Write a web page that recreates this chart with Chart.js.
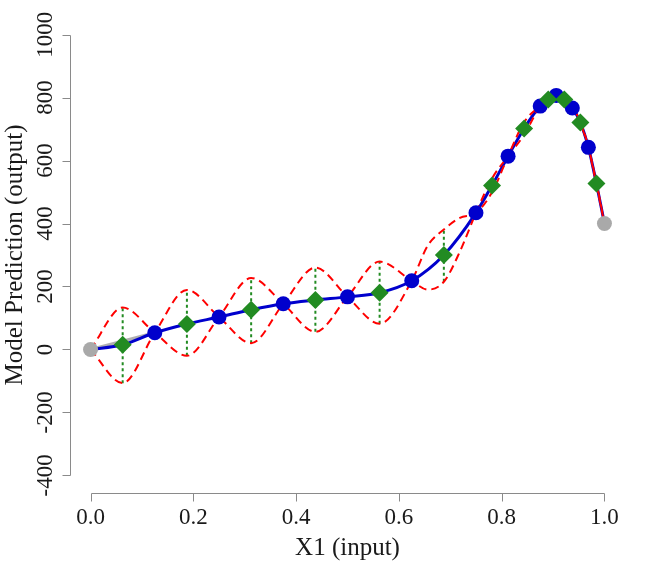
<!DOCTYPE html>
<html>
<head>
<meta charset="utf-8">
<script src="https://cdn.jsdelivr.net/npm/chart.js@4"></script>
<style>
  html, body { margin: 0; padding: 0; background: #fff; }
  #wrap { width: 658px; height: 564px; }
</style>
</head>
<body>
<div id="wrap"><canvas id="predChart" width="658" height="564"></canvas></div>
<script>
// ===== data =====
const xTicks = [0, 0.2, 0.4, 0.6, 0.8, 1.0];
const xTickLabels = ['0.0', '0.2', '0.4', '0.6', '0.8', '1.0'];
const yTicks = [-400, -200, 0, 200, 400, 600, 800, 1000];
const yTickLabels = ['-400', '-200', '0', '200', '400', '600', '800', '1000'];

// end points (grey)
const xEnds = [0, 1];
const yEnds = [0, 400];

// sampled points (blue)
const xTrain = [0.125, 0.25, 0.375, 0.5, 0.625, 0.75, 0.8125, 0.875, 0.90625, 0.9375, 0.96875];
const yTrain = [53, 103, 145, 167, 218, 434, 614, 773, 807, 767, 642];

// predicted midpoints (green) with their bands
const xPred = [0.0625, 0.1875, 0.3125, 0.4375, 0.5625, 0.6875, 0.78125, 0.84375, 0.890625, 0.921875, 0.953125, 0.984375];
const yPred = [15, 81, 126, 157, 180, 300, 521, 702, 794, 794, 721, 527];
const yUpper = [133, 189, 227, 260, 279, 381, 543, 722, 798, 798, 724, 530];
const yLower = [-107, -20, 20, 56, 82, 215, 499, 682, 790, 790, 718, 524];

// a few extra readings of the dashed curves where the band is lopsided
const xBandExtra = [0.65625, 0.71875];
const yBandExtraA = [190, 311];
const yBandExtraB = [330, 418];

// grey guide segment at the start
const xGuide = [0, 0.125];
const yGuide = [0, 53];

const FONT = '"Liberation Serif", "Times New Roman", serif';

// ==================== BUILD SERIES ====================
const toPts = (xs, ys) => xs.map((x, i) => ({ x: x, y: ys[i] }));

const knots = [
    ...toPts(xEnds, yEnds).map(p => ({ ...p, kind: 'end' })),
    ...toPts(xTrain, yTrain).map(p => ({ ...p, kind: 'train' })),
    ...xPred.map((x, i) => ({ x: x, y: yPred[i], kind: 'pred', i: i }))
].sort((a, b) => a.x - b.x);

const meanLine = knots.map(p => ({ x: p.x, y: p.y }));

// two crossing dashed curves: they swap between upper and lower at each midpoint
function bandCurve(flip) {
    const pts = knots.map(p => {
        if (p.kind !== 'pred') return { x: p.x, y: p.y };
        const up = (p.i % 2 === 0) !== flip;
        return { x: p.x, y: up ? yUpper[p.i] : yLower[p.i] };
    });
    const extra = flip ? yBandExtraB : yBandExtraA;
    xBandExtra.forEach((x, i) => pts.push({ x: x, y: extra[i] }));
    return pts.sort((a, b) => a.x - b.x);
}

const errBars = [];
xPred.forEach((x, i) => {
    errBars.push({ x: x, y: yLower[i] }, { x: x, y: yUpper[i] }, { x: x, y: null });
});

// ==================== AXES PLUGIN (R style, detached) ====================
const rAxes = {
    id: 'rAxes',
    afterDraw(chart) {
        const { ctx, chartArea } = chart;
        const sx = chart.scales.x, sy = chart.scales.y;
        const crisp = v => Math.round(v) + 0.5;
        ctx.save();
        ctx.strokeStyle = '#8a8a8a';
        ctx.lineWidth = 1;

        // x axis
        const yb = crisp(chartArea.bottom);
        ctx.beginPath();
        ctx.moveTo(crisp(sx.getPixelForValue(xTicks[0])), yb);
        ctx.lineTo(crisp(sx.getPixelForValue(xTicks[xTicks.length - 1])), yb);
        xTicks.forEach(v => {
            const px = crisp(sx.getPixelForValue(v));
            ctx.moveTo(px, yb);
            ctx.lineTo(px, yb + 8);
        });
        // y axis
        const xl = crisp(chartArea.left);
        ctx.moveTo(xl, crisp(sy.getPixelForValue(yTicks[0])));
        ctx.lineTo(xl, crisp(sy.getPixelForValue(yTicks[yTicks.length - 1])));
        yTicks.forEach(v => {
            const py = crisp(sy.getPixelForValue(v));
            ctx.moveTo(xl, py);
            ctx.lineTo(xl - 8, py);
        });
        ctx.stroke();

        ctx.fillStyle = '#1a1a1a';
        ctx.font = '23px ' + FONT;
        ctx.textAlign = 'center';
        ctx.textBaseline = 'alphabetic';
        xTicks.forEach((v, i) => {
            ctx.fillText(xTickLabels[i], sx.getPixelForValue(v), 524);
        });
        yTicks.forEach((v, i) => {
            ctx.save();
            ctx.translate(52, sy.getPixelForValue(v));
            ctx.rotate(-Math.PI / 2);
            ctx.fillText(yTickLabels[i], 0, 0);
            ctx.restore();
        });

        ctx.font = '25px ' + FONT;
        ctx.fillText('X1 (input)', (chartArea.left + chartArea.right) / 2, 555);
        ctx.save();
        ctx.translate(22, (chartArea.top + chartArea.bottom) / 2);
        ctx.rotate(-Math.PI / 2);
        ctx.fillText('Model Prediction (output)', 0, 0);
        ctx.restore();
        ctx.restore();
    }
};

// ==================== CHART ====================
const lineBase = { showLine: true, pointRadius: 0, fill: false };

new Chart(document.getElementById('predChart'), {
    type: 'line',
    data: {
        datasets: [
            {   // grey end points
                data: toPts(xEnds, yEnds), showLine: false, order: 0,
                pointRadius: 7.5, pointStyle: 'circle',
                pointBackgroundColor: '#a9a9a9', pointBorderColor: '#a9a9a9', pointBorderWidth: 0
            },
            {   // green predictions
                data: toPts(xPred, yPred), showLine: false, order: 1,
                pointRadius: 9, pointStyle: 'rectRot',
                pointBackgroundColor: '#228b22', pointBorderColor: '#228b22', pointBorderWidth: 0
            },
            {   // blue samples
                data: toPts(xTrain, yTrain), showLine: false, order: 2,
                pointRadius: 7.5, pointStyle: 'circle',
                pointBackgroundColor: '#0000cc', pointBorderColor: '#0000cc', pointBorderWidth: 0
            },
            {   // band curve A
                ...lineBase, data: bandCurve(false), order: 3,
                borderColor: '#ff0000', borderWidth: 2, borderDash: [8, 5],
                cubicInterpolationMode: 'monotone'
            },
            {   // band curve B
                ...lineBase, data: bandCurve(true), order: 3,
                borderColor: '#ff0000', borderWidth: 2, borderDash: [8, 5],
                cubicInterpolationMode: 'monotone'
            },
            {   // mean line
                ...lineBase, data: meanLine, order: 4,
                borderColor: '#0000cd', borderWidth: 3,
                cubicInterpolationMode: 'monotone'
            },
            {   // green dotted error bars
                ...lineBase, data: errBars, order: 5, spanGaps: false,
                borderColor: '#228b22', borderWidth: 2, borderDash: [3, 3]
            },
            {   // grey guide
                ...lineBase, data: toPts(xGuide, yGuide), order: 6,
                borderColor: '#b0b0b0', borderWidth: 3
            }
        ]
    },
    options: {
        responsive: false,
        devicePixelRatio: 1,
        animation: false,
        layout: { padding: { left: 70, right: 33, top: 17, bottom: 71 } },
        plugins: { legend: { display: false }, tooltip: { enabled: false } },
        scales: {
            x: { type: 'linear', min: -0.04, max: 1.04, display: false },
            y: { type: 'linear', min: -456, max: 1056, display: false }
        }
    },
    plugins: [rAxes]
});
</script>
</body>
</html>
